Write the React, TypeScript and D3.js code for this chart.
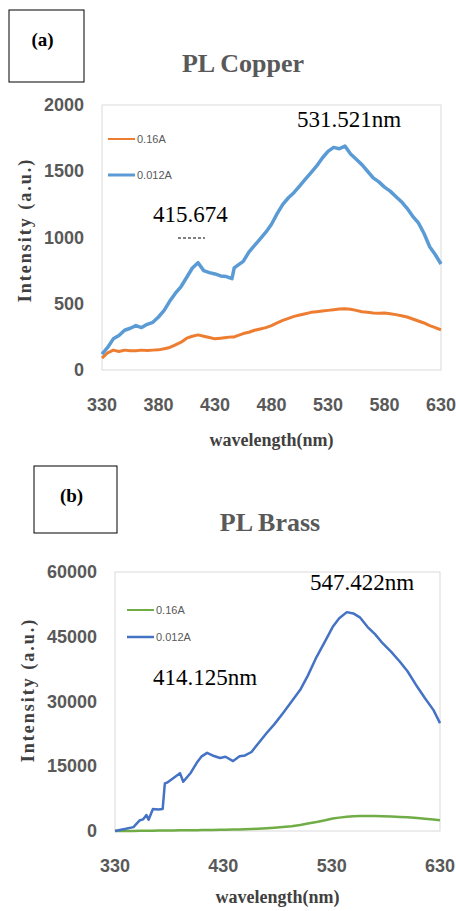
import React from "react";
import * as d3 from "d3";

// wavelengths (nm) for copper spectra
const cuWl = [330,335,340,345,350,355,360,365,370,375,380,385,390,395,400,405,410,415,420,425,430,435,440,445,447,450,455,460,465,470,475,480,485,490,495,500,505,510,515,520,525,530,535,540,545,550,555,560,565,570,575,580,585,590,595,600,605,610,615,620,625,630];
// 0.012A copper
const cuHigh = [120,170,235,260,300,315,335,320,345,360,400,450,520,580,630,700,770,810,750,735,725,710,705,690,770,790,820,890,940,990,1040,1100,1180,1250,1300,1340,1390,1440,1490,1540,1600,1650,1680,1670,1690,1630,1590,1550,1500,1450,1420,1380,1350,1310,1270,1220,1160,1110,1030,930,870,800];
// 0.16A copper
const cuLow = [90,130,150,140,150,145,145,150,148,150,152,160,170,190,210,240,255,265,255,245,235,240,245,250,250,260,275,285,300,310,320,335,355,375,390,405,415,425,435,440,445,450,455,460,462,458,450,440,435,430,428,430,425,418,410,400,385,370,355,335,320,302];

// wavelengths (nm) for brass spectra
const brWl = [330,340,347,353,356,359,361,365,370,374,376,378,384,390,393,400,406,410,415,420,427,432,439,445,450,456,462,470,477,485,493,501,508,516,524,531,537,544,550,556,563,570,577,585,593,600,609,616,624,630];
// 0.012A brass
const brHigh = [0,500,900,2500,2700,3700,2600,5100,5000,5100,11000,11200,12300,13400,11400,13500,16000,17300,18100,17500,16900,17200,16200,17300,17500,18300,20200,22700,24700,27300,30000,32700,36000,40300,44000,47300,49300,50700,50400,49500,47300,45600,43500,41500,39200,37000,33400,30800,28000,25000];
// 0.16A brass
const brLow = [0,0,0,50,50,60,60,80,100,100,110,110,130,150,160,180,200,210,230,250,280,300,330,370,400,450,520,620,740,900,1100,1400,1750,2100,2500,2900,3100,3300,3400,3450,3500,3450,3400,3350,3250,3200,3000,2850,2650,2500];

const cuXTicks = [330,380,430,480,530,580,630];
const cuYTicks = [0,500,1000,1500,2000];
const brXTicks = [330,430,530,630];
const brYTicks = [0,15000,30000,45000,60000];

const tickFont = "'Liberation Sans Narrow', 'Liberation Sans', Arial, sans-serif";
const serif = "'Liberation Serif', 'Times New Roman', serif";
const gray = "#595959";

const Panel = ({ cfg }) => {
	const x = d3.scaleLinear().domain([330, 630]).range([cfg.left, cfg.right]);
	const y = d3.scaleLinear().domain(cfg.yDomain).range([cfg.bottom, cfg.top]);
	const line = d3
		.line()
		.x((d) => x(d[0]))
		.y((d) => y(d[1]));

	return (
		<g>
			{/* panel letter box */}
			<rect x={cfg.box[0]} y={cfg.box[1]} width={cfg.box[2]} height={cfg.box[3]} fill="none" stroke="#000" strokeWidth={1} />
			<text x={cfg.box[0] + cfg.box[2] / 2 - 4} y={cfg.box[1] + 36} textAnchor="middle" fontFamily={serif} fontWeight="bold" fontSize={19}>
				{cfg.letter}
			</text>
			<text x={cfg.titleX} y={cfg.titleY} textAnchor="middle" fontFamily={serif} fontWeight="bold" fontSize={26} fill={gray}>
				{cfg.title}
			</text>

			<rect x={cfg.left} y={cfg.top} width={cfg.right - cfg.left} height={cfg.bottom - cfg.top} fill="none" stroke="#d9d9d9" strokeWidth={1} />

			{cfg.yTicks.map((t) => (
				<text key={"y" + t} x={cfg.yLabelX} y={y(t) + 6} textAnchor="end" fontFamily={tickFont} fontWeight="bold" fontSize={18} fill={gray}>
					{t}
				</text>
			))}
			{cfg.xTicks.map((t) => (
				<text key={"x" + t} x={x(t)} y={cfg.bottom + 41} textAnchor="middle" fontFamily={tickFont} fontWeight="bold" fontSize={18} fill={gray}>
					{t}
				</text>
			))}

			<text x={(cfg.left + cfg.right) / 2} y={cfg.xTitleY} textAnchor="middle" fontFamily={serif} fontWeight="bold" fontSize={18} fill="#404040">
				wavelength(nm)
			</text>
			<text
				transform={`translate(${cfg.yTitleX},${cfg.yTitleY}) rotate(-90)`}
				textAnchor="middle"
				fontFamily={serif}
				fontWeight="bold"
				fontSize={18}
				letterSpacing={2}
				fill="#404040"
			>
				Intensity (a.u.)
			</text>

			{cfg.series.map((s, i) => (
				<path
					key={"s" + i}
					d={line(cfg.wl.map((w, j) => [w, s.values[j]]))}
					fill="none"
					stroke={s.color}
					strokeWidth={s.width}
					strokeLinejoin="round"
				/>
			))}

			{cfg.series.map((s, i) => (
				<g key={"l" + i}>
					<line x1={cfg.legendX} x2={cfg.legendX + 27} y1={cfg.legendY[i]} y2={cfg.legendY[i]} stroke={s.color} strokeWidth={s.legendWidth} />
					<text x={cfg.legendX + 29} y={cfg.legendY[i] + 4} fontFamily={tickFont} fontSize={11} fill={gray}>
						{s.name}
					</text>
				</g>
			))}

			{cfg.notes.map((n, i) => (
				<text key={"n" + i} x={n.x} y={n.y} fontFamily={serif} fontSize={23} fill="#000">
					{n.text}
				</text>
			))}
		</g>
	);
};

const copper = {
	letter: "(a)",
	box: [9, 10, 75, 72],
	title: "PL Copper",
	titleX: 243,
	titleY: 72,
	left: 102,
	right: 441,
	top: 105,
	bottom: 370,
	yDomain: [0, 2000],
	xTicks: cuXTicks,
	yTicks: cuYTicks,
	yLabelX: 84,
	xTitleY: 446,
	yTitleX: 31,
	yTitleY: 230,
	wl: cuWl,
	series: [
		{ name: "0.16A", values: cuLow, color: "#ED7D31", width: 3, legendWidth: 2 },
		{ name: "0.012A", values: cuHigh, color: "#5B9BD5", width: 3.5, legendWidth: 3 },
	],
	legendX: 108,
	legendY: [139, 175],
	notes: [
		{ text: "531.521nm", x: 297, y: 127 },
		{ text: "415.674", x: 153, y: 222 },
	],
};

const brass = {
	letter: "(b)",
	box: [34, 466, 83, 67],
	title: "PL Brass",
	titleX: 270,
	titleY: 531,
	left: 115,
	right: 440,
	top: 572,
	bottom: 831,
	yDomain: [0, 60000],
	xTicks: brXTicks,
	yTicks: brYTicks,
	yLabelX: 97,
	xTitleY: 903,
	yTitleX: 34,
	yTitleY: 690,
	wl: brWl,
	series: [
		{ name: "0.16A", values: brLow, color: "#70AD47", width: 2.5, legendWidth: 2 },
		{ name: "0.012A", values: brHigh, color: "#4472C4", width: 2.5, legendWidth: 2.5 },
	],
	legendX: 127,
	legendY: [610, 637],
	notes: [
		{ text: "547.422nm", x: 310, y: 590 },
		{ text: "414.125nm", x: 153, y: 685 },
	],
};

const App = () => {
	return (
		<svg
			width={456}
			height={911}
			style={{ position: "absolute", left: 0, top: 0, background: "#fff" }}
		>
			<Panel cfg={copper} />
			{/* small dashed remnant under the 415.674 label */}
			<line x1={178} x2={205} y1={238} y2={238} stroke="#000" strokeWidth={1} strokeDasharray="3,2" />
			<Panel cfg={brass} />
		</svg>
	);
};

export default App;
